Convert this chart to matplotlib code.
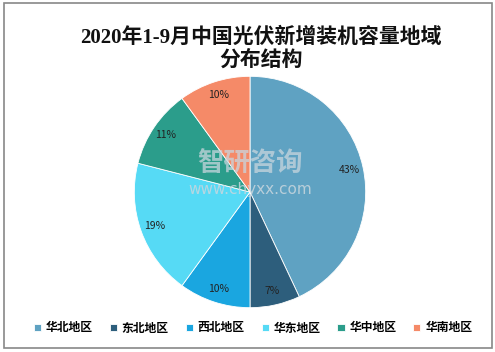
import matplotlib
matplotlib.use("Agg")
import matplotlib.pyplot as plt
from matplotlib.patches import Rectangle

plt.rcParams['font.family'] = ['Noto Sans CJK SC', 'DejaVu Sans']

title = "2020年1-9月中国光伏新增装机容量地域\n分布结构"
regions = ["华北地区", "东北地区", "西北地区", "华东地区", "华中地区", "华南地区"]
shares = [43, 7, 10, 19, 11, 10]
colors = ["#5fa2c2", "#2d5e7c", "#1aa6e0", "#56daf5", "#2b9d8b", "#f58a68"]

fig = plt.figure(figsize=(4.95, 3.52), dpi=100)
fig.patches.append(Rectangle((0.008, 0.011), 0.986, 0.98, transform=fig.transFigure,
                             fill=False, edgecolor="#888888", linewidth=1.2))

ax = fig.add_axes([(250 - 118) / 495, 1 - (192 + 118) / 352, 236 / 495, 236 / 352])
wedges, texts, autotexts = ax.pie(shares, colors=colors, startangle=90, counterclock=False,
                                  autopct=lambda p: f"{p:.0f}%", pctdistance=0.88,
                                  wedgeprops=dict(edgecolor="white", linewidth=0.6),
                                  textprops=dict(fontsize=7.5, color="#222222"))
ax.set_xlim(-1.02, 1.02)
ax.set_ylim(-1.02, 1.02)
ax.set_aspect('equal')

fig.text(261 / 495, 1 - 49 / 352, title, ha='center', va='center', fontsize=15,
         fontweight='bold', linespacing=1.15, color="#111111",
         family=['Liberation Serif', 'Noto Sans CJK SC'])

# watermark
fig.text(250 / 495, 1 - 164 / 352, "智研咨询", ha='center', va='center', fontsize=19,
         color="#c8d6de", alpha=0.75, fontweight='bold')
fig.text(250 / 495, 1 - 189 / 352, "www.chyxx.com", ha='center', va='center', fontsize=11,
         color="#c8d6de", alpha=0.85, family='DejaVu Sans')

fig.legend(wedges, regions, loc='center', bbox_to_anchor=(253 / 495, 1 - 328 / 352),
           ncol=6, frameon=False, handlelength=0.6, handleheight=0.6,
           handletextpad=0.4, columnspacing=1.45, prop=dict(weight='bold', size=8.5))

fig.savefig("out.png", dpi=100)
